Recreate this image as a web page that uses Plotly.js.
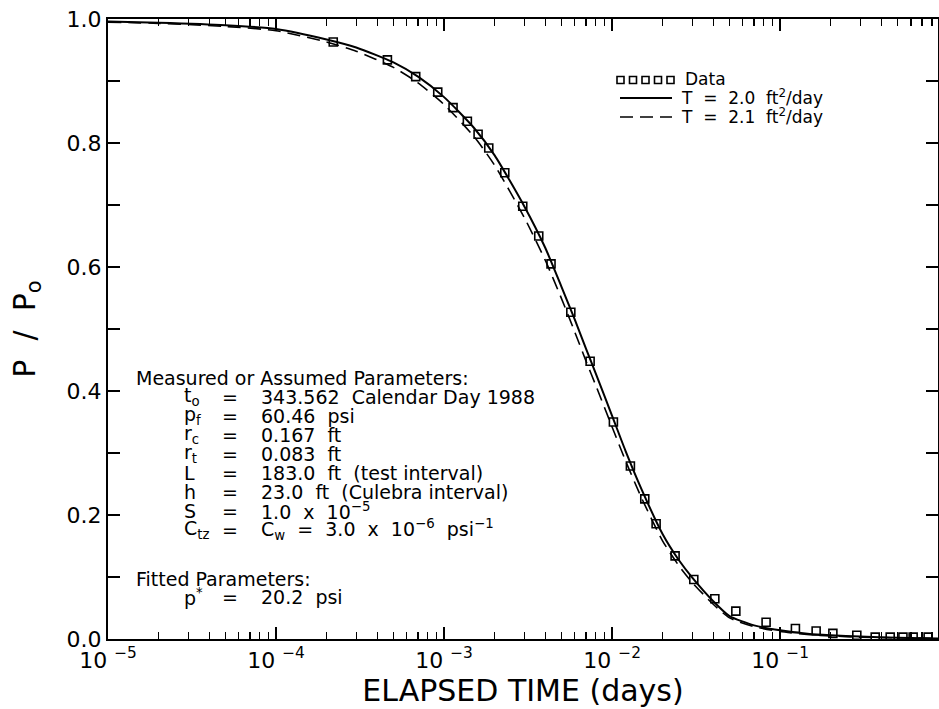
<!DOCTYPE html>
<html>
<head>
<meta charset="utf-8">
<script src="https://cdn.plot.ly/plotly-3.0.1.min.js"></script>
<style>
  html, body { margin: 0; padding: 0; background: #ffffff; }
  #chart { width: 939px; height: 709px; }
</style>
</head>
<body>
<div id="chart"></div>
<script>
// Observed pressure ratio P/Po against elapsed time (days)
const dataTime = [2.19e-4, 4.60e-4, 6.78e-4, 9.17e-4, 1.131e-3, 1.376e-3, 1.594e-3, 1.845e-3,
  2.298e-3, 2.94e-3, 3.66e-3, 4.33e-3, 5.68e-3, 7.40e-3, 1.018e-2, 1.285e-2, 1.565e-2, 1.828e-2,
  2.371e-2, 3.063e-2, 4.087e-2, 5.45e-2, 8.25e-2, 0.1233, 0.1638, 0.206, 0.286, 0.368, 0.452,
  0.538, 0.619, 0.760];
const dataRatio = [0.963, 0.934, 0.907, 0.882, 0.857, 0.835, 0.814, 0.792,
  0.752, 0.698, 0.650, 0.605, 0.527, 0.448, 0.350, 0.279, 0.226, 0.186,
  0.134, 0.096, 0.065, 0.045, 0.027, 0.017, 0.013, 0.009, 0.006, 0.003, 0.003,
  0.003, 0.003, 0.003];

// Simulated responses for the two transmissivities
const curveTime = [1e-5, 2e-5, 5e-5, 1e-4, 2e-4, 3e-4, 5e-4, 7e-4, 1e-3, 1.5e-3, 2e-3, 3e-3,
  4e-3, 5e-3, 6e-3, 7e-3, 8e-3, 1e-2, 1.2e-2, 1.5e-2, 2e-2, 2.5e-2, 3e-2, 4e-2, 5e-2, 7e-2,
  0.1, 0.15, 0.2, 0.3, 0.5, 0.87];
const curveT20 = [0.996, 0.994, 0.990, 0.984, 0.967, 0.954, 0.930, 0.907, 0.874, 0.825, 0.780, 0.698,
  0.631, 0.568, 0.515, 0.468, 0.428, 0.360, 0.304, 0.241, 0.169, 0.127, 0.099, 0.061, 0.037, 0.022,
  0.014, 0.008, 0.006, 0.004, 0.002, 0.001];
const curveT21 = [0.995, 0.993, 0.988, 0.981, 0.963, 0.948, 0.922, 0.897, 0.862, 0.811, 0.764, 0.680,
  0.611, 0.549, 0.495, 0.448, 0.409, 0.342, 0.288, 0.227, 0.158, 0.118, 0.091, 0.056, 0.034, 0.020,
  0.012, 0.007, 0.005, 0.003, 0.002, 0.001];

// Axis ticks
const xTickVals = [1e-5, 1e-4, 1e-3, 1e-2, 1e-1];
const xTickText = ['10 <sup>\u22125</sup>', '10 <sup>\u22124</sup>', '10 <sup>\u22123</sup>',
  '10 <sup>\u22122</sup>', '10 <sup>\u22121</sup>'];
const yTickVals = [0.0, 0.2, 0.4, 0.6, 0.8, 1.0];
const yTickText = ['0.0', '0.2', '0.4', '0.6', '0.8', '1.0'];

// Legend entries
const legendLabels = ['Data', 'T  =  2.0  ft<sup>2</sup>/day', 'T  =  2.1  ft<sup>2</sup>/day'];

// Parameter block
const measuredHeading = 'Measured or Assumed Parameters:';
const measuredSymbols = ['t<sub>o</sub>', 'p<sub>f</sub>', 'r<sub>c</sub>', 'r<sub>t</sub>', 'L', 'h', 'S', 'C<sub>tz</sub>'];
const measuredValues = ['343.562  Calendar Day 1988', '60.46  psi', '0.167  ft', '0.083  ft',
  '183.0  ft  (test interval)', '23.0  ft  (Culebra interval)', '1.0  x  10<sup>\u22125</sup>',
  'C<sub>w</sub>  =  3.0  x  10<sup>\u22126</sup>  psi<sup>\u22121</sup>'];
const fittedHeading = 'Fitted Parameters:';
const fittedSymbols = ['p<sup>*</sup>'];
const fittedValues = ['20.2  psi'];

// Minor ticks at 2..9 of each decade
const xMinor = [];
for (let e = -5; e <= -1; e++) {
  for (let m = 2; m <= 9; m++) xMinor.push(m * Math.pow(10, e));
}

// Plot-area geometry in page pixels, used to place the text block and legend
const W = 939, H = 709;
const M = { l: 108, r: 1, t: 19, b: 70 };
const PW = W - M.l - M.r, PH = H - M.t - M.b;
const px = x => (x - M.l) / PW;
const py = y => (H - M.b - y) / PH;

const FONT = 'DejaVu Sans, Liberation Sans, Arial, sans-serif';
const nb = s => s.replace(/ {2}/g, '\u00a0\u00a0');

const traces = [
  {
    x: curveTime, y: curveT20, type: 'scatter', mode: 'lines',
    line: { color: '#000', width: 2, shape: 'spline', smoothing: 0.6 },
    hoverinfo: 'skip'
  },
  {
    x: curveTime, y: curveT21, type: 'scatter', mode: 'lines',
    line: { color: '#000', width: 1.6, dash: '13px,7px', shape: 'spline', smoothing: 0.6 },
    hoverinfo: 'skip'
  },
  {
    x: dataTime, y: dataRatio, type: 'scatter', mode: 'markers',
    marker: { symbol: 'square-open', size: 8, color: '#000', line: { width: 1.6, color: '#000' } }
  }
];

const annotations = [];
const shapes = [];

function addText(text, x, y, size) {
  annotations.push({
    xref: 'paper', yref: 'paper', x: px(x), y: py(y),
    xanchor: 'left', yanchor: 'middle', showarrow: false,
    text: nb(text), font: { family: FONT, size: size, color: '#000' }
  });
}

// Parameter listing
const rowStep = 19;
const textSize = 19;
addText(measuredHeading, 134, 377.5, textSize);
measuredSymbols.forEach((s, i) => {
  const y = 396.5 + i * rowStep;
  addText(s, 182, y, textSize);
  addText('=', 220, y, textSize);
  addText(measuredValues[i], 259, y, textSize);
});
addText(fittedHeading, 134, 578.5, textSize);
fittedSymbols.forEach((s, i) => {
  const y = 597 + i * rowStep;
  addText(s, 182, y, textSize);
  addText('=', 220, y, textSize);
  addText(fittedValues[i], 259, y, textSize);
});

// Legend: five squares for the data, then solid and dashed line samples
const legendSize = 17;
for (let k = 0; k < 5; k++) {
  const cx = 620.5 + k * 12.5;
  shapes.push({
    type: 'rect', xref: 'paper', yref: 'paper',
    x0: px(cx - 3.5), x1: px(cx + 3.5), y0: py(80 + 3.5), y1: py(80 - 3.5),
    line: { color: '#000', width: 1.6 }, fillcolor: 'rgba(0,0,0,0)'
  });
}
addText(legendLabels[0], 683, 79, legendSize);
shapes.push({
  type: 'line', xref: 'paper', yref: 'paper',
  x0: px(620), x1: px(672), y0: py(98), y1: py(98),
  line: { color: '#000', width: 2 }
});
addText(legendLabels[1], 679, 97, legendSize);
shapes.push({
  type: 'line', xref: 'paper', yref: 'paper',
  x0: px(620), x1: px(672), y0: py(117), y1: py(117),
  line: { color: '#000', width: 1.6, dash: '13px,7px' }
});
addText(legendLabels[2], 679, 116, legendSize);

const layout = {
  width: W, height: H,
  margin: M,
  paper_bgcolor: '#fff', plot_bgcolor: '#fff',
  showlegend: false,
  font: { family: FONT, color: '#000' },
  xaxis: {
    type: 'log',
    range: [-5, Math.log10(0.87)],
    tickmode: 'array', tickvals: xTickVals, ticktext: xTickText,
    ticks: 'inside', ticklen: 12, tickwidth: 1.5, tickcolor: '#000',
    minor: { tickmode: 'array', tickvals: xMinor, ticks: 'inside', ticklen: 7, tickwidth: 1.3, tickcolor: '#000', showgrid: false },
    showline: true, linewidth: 2.2, linecolor: '#000', mirror: 'allticks',
    showgrid: false, zeroline: false,
    tickfont: { family: FONT, size: 22, color: '#000' },
    title: { text: 'ELAPSED TIME (days)', font: { family: FONT, size: 30, color: '#000' }, standoff: 4 },
    automargin: false
  },
  yaxis: {
    range: [0, 1],
    tickmode: 'array', tickvals: yTickVals, ticktext: yTickText,
    ticks: 'inside', ticklen: 12, tickwidth: 1.5, tickcolor: '#000',
    minor: { dtick: 0.1, ticks: 'inside', ticklen: 12, tickwidth: 1.5, tickcolor: '#000', showgrid: false },
    showline: true, linewidth: 2.2, linecolor: '#000', mirror: 'allticks',
    showgrid: false, zeroline: false,
    tickfont: { family: FONT, size: 22, color: '#000' },
    title: { text: 'P  /  P<sub>o</sub>', font: { family: FONT, size: 30, color: '#000' }, standoff: 22 },
    automargin: false
  },
  annotations: annotations,
  shapes: shapes
};

Plotly.newPlot('chart', traces, layout, { staticPlot: true, displayModeBar: false });
</script>
</body>
</html>
